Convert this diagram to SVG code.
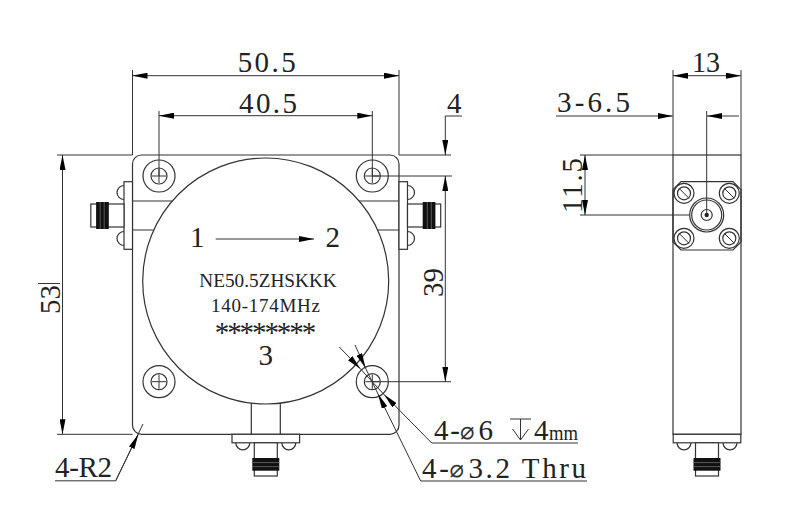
<svg xmlns="http://www.w3.org/2000/svg" width="800" height="532" viewBox="0 0 800 532">
<style>
.s{fill:none;stroke:#333;stroke-width:1.2}
.w{fill:#fff;stroke:#333;stroke-width:1.2}
.d{fill:none;stroke:#333;stroke-width:1}
.a{marker-end:url(#arr)}
.b{marker-start:url(#arr);marker-end:url(#arr)}
.t{font-family:"Liberation Serif",serif;fill:#222;font-size:29px}
.m{font-family:"Liberation Serif",serif;fill:#222;font-size:19px}
.y{font-family:"DejaVu Sans",sans-serif;fill:#333;font-size:24px}
</style>
<defs>
<marker id="arr" viewBox="0 0 15 6" refX="15" refY="3" markerWidth="15" markerHeight="6" markerUnits="userSpaceOnUse" orient="auto-start-reverse"><path d="M0 0L15 3L0 6z" fill="#000"/></marker>
<g id="sma">
<path class="s" d="M-30 8.5A7 7 0 0 0 -16 8.5M16 8.5A7 7 0 0 0 30 8.5"/>
<rect class="w" x="-33.8" y="0" width="67.6" height="8.5"/>
<rect class="w" x="-11.5" y="8.5" width="23" height="33.2"/>
<rect x="-13.5" y="23.7" width="27" height="12.7" fill="#111"/>
<path d="M-13.5 28.3H13.5M-13.5 32.3H13.5" stroke="#777" stroke-width=".7"/>
</g>
<g id="hole"><circle class="s" r="16"/><circle class="s" r="8"/><path class="d" d="M-7 0H7M0 -7V7"/></g>
<g id="screw"><circle class="s" r="10"/><circle class="s" r="6.5"/><path class="d" d="M-5 -5L5 5"/></g>
</defs>
<rect width="800" height="532" fill="#fff"/>
<g id="isolator-body">
<rect class="s" x="132.5" y="155" width="266.5" height="279.3" rx="9"/>
<path class="s" d="M132.5 201H172.3M132.5 230H153.7M399 201H359.1M399 230H377.7M251.3 403V434.3M280.3 403V434.3"/>
<circle class="s" cx="265.7" cy="281" r="123"/>
</g>
<g id="hole-tl"><use href="#hole" x="159" y="176"/></g>
<g id="hole-tr"><use href="#hole" x="372.3" y="176"/></g>
<g id="hole-bl"><use href="#hole" x="159" y="381.7"/></g>
<g id="hole-br"><use href="#hole" x="372.3" y="381.7"/></g>
<g id="port-left"><use href="#sma" transform="translate(132.5 215.5) rotate(90)"/></g>
<g id="port-right"><use href="#sma" transform="translate(399 215.5) rotate(-90)"/></g>
<g id="port-bottom"><use href="#sma" transform="translate(265.8 434.3)"/></g>
<g id="side-view">
<rect class="s" x="673" y="155" width="68" height="279.3"/>
<path class="s" d="M681 181.7H733L741 189.7V242L733 250H681L673 242V189.7z"/>
<use href="#screw" x="684" y="193.3"/><use href="#screw" x="729.3" y="193.3"/><use href="#screw" x="684" y="238.3"/><use href="#screw" x="729.3" y="238.3"/>
<circle class="s" cx="706.7" cy="215" r="17"/><circle class="s" cx="706.7" cy="215" r="15"/><circle class="s" cx="706.7" cy="215" r="5.5"/><circle cx="706.7" cy="215" r="2.2" fill="#222"/>
<use href="#sma" transform="translate(707 434.3)"/>
</g>
<g id="connectors">
<path class="d" d="M132.5 70V155M399 70V155M159 111V176M372.3 111V176M57 155H132.5M57 434.3H132.5M399 155H451M372.3 176H452M372.3 381.7H451M673 70V155M741 70V155M580 155H673M580 215H690M706.7 111V215M38 283.5H60M445.3 116H462M55 480.8H115.7L143 424M431.7 443H578M420.7 481H587"/>
<line class="d b" x1="132.5" y1="75.7" x2="399" y2="75.7"/>
<line class="d b" x1="159" y1="115.7" x2="372.3" y2="115.7"/>
<line class="d b" x1="62.5" y1="155" x2="62.5" y2="434.3"/>
<line class="d a" x1="445.3" y1="116" x2="445.3" y2="155"/>
<line class="d b" x1="445.3" y1="176" x2="445.3" y2="381.7"/>
<line class="d b" x1="673" y1="75.7" x2="741" y2="75.7"/>
<line class="d a" x1="556" y1="116" x2="672.7" y2="116"/>
<line class="d a" x1="739" y1="116" x2="707" y2="116"/>
<line class="d b" x1="585" y1="155" x2="585" y2="215"/>
<line class="d a" x1="215.7" y1="239" x2="314" y2="239"/>
<line class="d a" x1="115.7" y1="480.8" x2="138.3" y2="434.3"/>
<line class="d a" x1="339.3" y1="347" x2="360.5" y2="369"/>
<line class="d" x1="360.5" y1="369" x2="384" y2="394.5"/>
<line class="d a" x1="431.7" y1="443" x2="384" y2="394.5"/>
<line class="d a" x1="355" y1="345" x2="365.5" y2="368"/>
<line class="d" x1="365.5" y1="368" x2="378" y2="394"/>
<line class="d a" x1="420.7" y1="481" x2="378" y2="394"/>
<path class="d" d="M510 419H531M520.5 419V440M512.5 429L520.5 440L528.5 429"/>
</g>
<g id="labels">
<text class="t" x="237.7" y="72" textLength="58">50.5</text>
<text class="t" x="239" y="113.3" textLength="58">40.5</text>
<text class="t" x="447" y="112.7">4</text>
<text class="t" x="692" y="71.7" textLength="28" lengthAdjust="spacingAndGlyphs">13</text>
<text class="t" x="557" y="112" textLength="73">3-6.5</text>
<text class="t" transform="translate(60 314) rotate(-90)" textLength="29">53</text>
<text class="t" transform="translate(443 297) rotate(-90)" textLength="29">39</text>
<text class="t" transform="translate(582 213) rotate(-90)" textLength="55">11.5</text>
<text class="t" x="190" y="247.3">1</text>
<text class="t" x="325.5" y="247.3">2</text>
<text class="t" x="258.5" y="365">3</text>
<text class="m" x="199.3" y="286.7" textLength="137.4" lengthAdjust="spacingAndGlyphs">NE50.5ZHSKKK</text>
<text class="m" x="211" y="311.7" textLength="109">140-174MHz</text>
<text class="t" x="214.7" y="342" textLength="101.5">********</text>
<text class="t" x="55" y="477.3" textLength="57">4-R2</text>
<text class="t" x="434" y="440" textLength="26">4-</text>
<text class="y" x="460" y="439">⌀</text>
<text class="t" x="478.5" y="440">6</text>
<text class="t" x="534" y="440">4</text>
<text class="t" x="549" y="440" textLength="29" lengthAdjust="spacingAndGlyphs" style="font-size:22px">mm</text>
<text class="t" x="422" y="478" textLength="27">4-</text>
<text class="y" x="449.5" y="477">⌀</text>
<text class="t" x="468.5" y="478" textLength="117.5">3.2 Thru</text>
</g>
</svg>
